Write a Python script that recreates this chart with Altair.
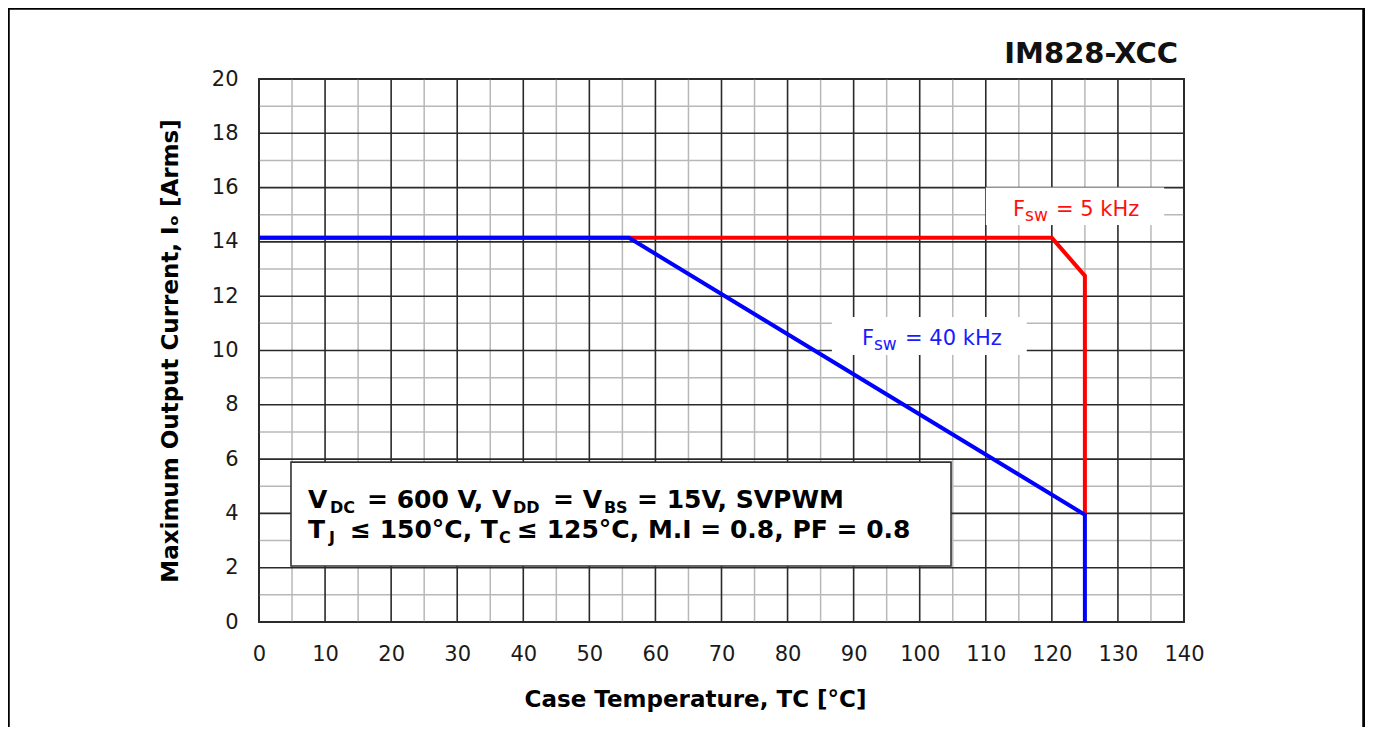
import altair as alt
import pandas as pd

# ---- data ----
temp_5k = [0, 120, 125, 125]
cur_5k = [14.15, 14.15, 12.75, 3.95]
temp_40k = [0, 56, 125, 125]
cur_40k = [14.15, 14.15, 3.95, 0]

x_major = list(range(0, 141, 10))
y_major = list(range(0, 21, 2))
x_minor = list(range(5, 140, 10))
y_minor = list(range(1, 20, 2))

# annotation texts (main pieces and subscript pieces), anchored in data units
box_main_text = ["V", "= 600 V, V", "= V", "= 15V, SVPWM",
                 "T", "≤ 150°C, T", "≤ 125°C, M.I = 0.8, PF = 0.8"]
box_main_x = [7.42, 16.35, 44.50, 57.21, 7.42, 13.77, 39.05]
box_main_y = [4.2, 4.2, 4.2, 4.2, 3.1, 3.1, 3.1]
box_sub_text = ["DC", "DD", "BS", "J", "C"]
box_sub_x = [10.75, 38.44, 52.2, 10.59, 36.32]
box_sub_y = [4.2, 4.2, 4.2, 3.1, 3.1]

lab_main_text = ["F", "= 5 kHz", "F", "= 40 kHz"]
lab_main_x = [114.12, 120.63, 91.27, 97.78]
lab_main_y = [14.95, 14.95, 10.2, 10.2]
lab_main_col = ["#ff1010", "#ff1010", "#1a1aff", "#1a1aff"]
lab_sub_text = ["sw", "sw"]
lab_sub_x = [115.94, 93.08]
lab_sub_y = [14.95, 10.2]
lab_sub_col = ["#ff1010", "#1a1aff"]

lab_box_x = [110.0, 86.7]
lab_box_x2 = [137.0, 116.2]
lab_box_y = [14.62, 9.83]
lab_box_y2 = [16.0, 11.23]

cond_box = {"x": [4.84], "x2": [104.74], "y": [2.06], "y2": [5.89]}

FONT = "DejaVu Sans"

xs = alt.Scale(domain=[0, 140], nice=False, zero=False)
ys = alt.Scale(domain=[0, 20], nice=False, zero=False)
x_axis = alt.Axis(values=x_major, grid=False, ticks=False, tickSize=0, domain=False,
                  labelPadding=21, labelFontSize=21, labelFont=FONT, labelColor="#1a1a1a",
                  title="Case Temperature, TC [°C]", titleFont=FONT, titleFontSize=23,
                  titleFontWeight="bold", titleColor="#000000", titleX=436, titleY=84,
                  titleBaseline="alphabetic", labelFlush=False)
y_axis = alt.Axis(values=y_major, grid=False, ticks=False, tickSize=0, domain=False,
                  labelPadding=21, labelFontSize=21, labelFont=FONT, labelColor="#1a1a1a",
                  title="Maximum Output Current, Iₒ [Arms]", titleFont=FONT, titleFontSize=23,
                  titleFontWeight="bold", titleColor="#000000", titleX=-89,
                  titleBaseline="middle", titleAlign="center", labelFlush=False)


def X(f):
    return alt.X(f"{f}:Q", scale=xs, axis=x_axis)


def Y(f):
    return alt.Y(f"{f}:Q", scale=ys, axis=y_axis)


minor_v = alt.Chart(pd.DataFrame({"x": x_minor})).mark_rule(color="#b8b8b8", strokeWidth=1.5).encode(x=X("x"))
minor_h = alt.Chart(pd.DataFrame({"y": y_minor})).mark_rule(color="#b8b8b8", strokeWidth=1.5).encode(y=Y("y"))
major_v = alt.Chart(pd.DataFrame({"x": x_major})).mark_rule(color="#2a2a2a", strokeWidth=1.6).encode(x=X("x"))
major_h = alt.Chart(pd.DataFrame({"y": y_major})).mark_rule(color="#2a2a2a", strokeWidth=1.6).encode(y=Y("y"))

lab_boxes = alt.Chart(pd.DataFrame({"x": lab_box_x, "x2": lab_box_x2, "y": lab_box_y, "y2": lab_box_y2})).mark_rect(
    fill="white").encode(x=X("x"), x2="x2", y=Y("y"), y2="y2")

red = alt.Chart(pd.DataFrame({"x": temp_5k, "y": cur_5k, "o": list(range(len(temp_5k)))})).mark_line(
    color="#ff0000", strokeWidth=4, strokeCap="butt", strokeJoin="miter").encode(x=X("x"), y=Y("y"), order="o:Q")
blue = alt.Chart(pd.DataFrame({"x": temp_40k, "y": cur_40k, "o": list(range(len(temp_40k)))})).mark_line(
    color="#0000ff", strokeWidth=4, strokeCap="butt", strokeJoin="miter").encode(x=X("x"), y=Y("y"), order="o:Q")

cond = alt.Chart(pd.DataFrame(cond_box)).mark_rect(fill="white", stroke="#333333", strokeWidth=1.6).encode(
    x=X("x"), x2="x2", y=Y("y"), y2="y2")

box_main = alt.Chart(pd.DataFrame({"x": box_main_x, "y": box_main_y, "t": box_main_text})).mark_text(
    align="left", baseline="alphabetic", font=FONT, fontSize=25, fontWeight="bold", color="#000000").encode(
    x=X("x"), y=Y("y"), text="t:N")
box_sub = alt.Chart(pd.DataFrame({"x": box_sub_x, "y": box_sub_y, "t": box_sub_text})).mark_text(
    align="left", baseline="alphabetic", font=FONT, fontSize=16, fontWeight="bold", color="#000000", dy=5).encode(
    x=X("x"), y=Y("y"), text="t:N")

lab_main = alt.Chart(pd.DataFrame({"x": lab_main_x, "y": lab_main_y, "t": lab_main_text, "c": lab_main_col})).mark_text(
    align="left", baseline="alphabetic", font=FONT, fontSize=21).encode(
    x=X("x"), y=Y("y"), text="t:N", color=alt.Color("c:N", scale=None))
lab_sub = alt.Chart(pd.DataFrame({"x": lab_sub_x, "y": lab_sub_y, "t": lab_sub_text, "c": lab_sub_col})).mark_text(
    align="left", baseline="alphabetic", font=FONT, fontSize=17, dy=5).encode(
    x=X("x"), y=Y("y"), text="t:N", color=alt.Color("c:N", scale=None))

title = alt.Chart(pd.DataFrame({"x": [139.1], "y": [20.59], "t": ["IM828-XCC"]})).mark_text(
    align="right", baseline="alphabetic", font=FONT, fontSize=29, fontWeight="bold", color="#111111").encode(
    x=X("x"), y=Y("y"), text="t:N")

frame = alt.Chart(pd.DataFrame({"k": [0]})).mark_rect(filled=False, stroke="#000000", strokeWidth=3.5).encode(
    x=alt.value(-251), x2=alt.value(1105), y=alt.value(-71), y2=alt.value(720))

chart = alt.layer(
    minor_v, minor_h, major_v, major_h, lab_boxes, red, blue, cond,
    box_main, box_sub, lab_main, lab_sub, title, frame
).properties(
    width=925, height=543,
    padding={"left": 251, "top": 71, "right": 181, "bottom": 105},
    autosize=alt.AutoSizeParams(type="none"),
    background="white",
).configure_view(stroke="#333333", strokeWidth=2)

chart.save("out.html", embed_options={"renderer": "svg", "actions": False})
